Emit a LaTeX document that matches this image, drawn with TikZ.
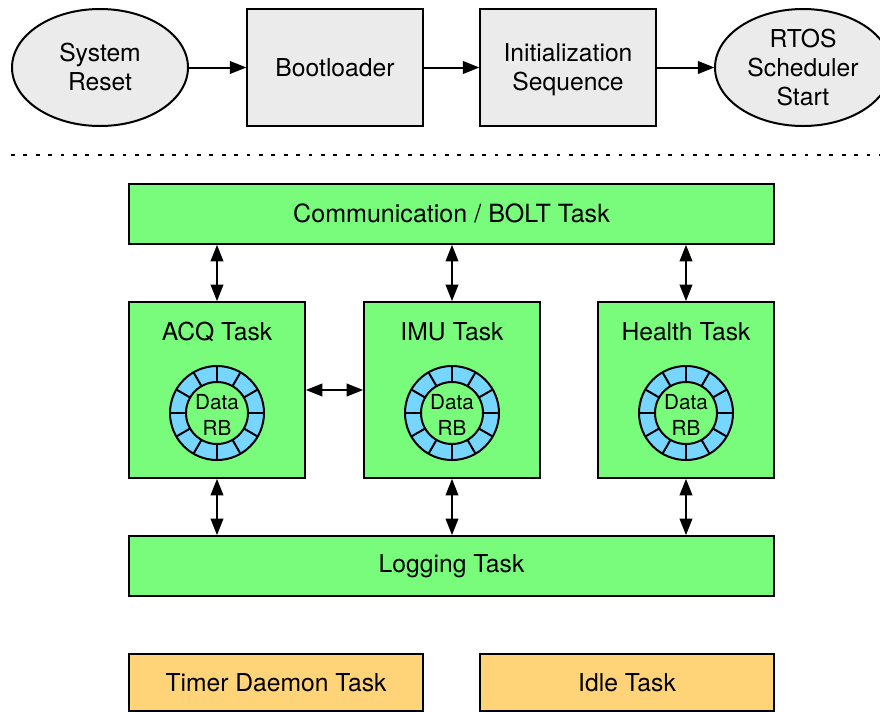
\documentclass[tikz,border=0pt]{standalone}
\usepackage{fontspec}
\setmainfont{TeX Gyre Heros}
\usetikzlibrary{arrows.meta,shapes.geometric,calc}
\definecolor{grn}{HTML}{79FB7C}
\definecolor{gry}{HTML}{EBEBEB}
\definecolor{org}{HTML}{FFD479}
\definecolor{blu}{HTML}{76D6FF}
\tikzset{
  x=0.75pt,y=-0.75pt,
  base/.style={draw=black,line width=1.5pt,inner sep=0pt,outer sep=0pt,align=center,font=\fontsize{18.5}{21.75}\selectfont},
  startbox/.style={base,fill=gry,minimum width=132pt,minimum height=87.75pt},
  startoval/.style={base,ellipse,fill=gry,minimum width=132pt,minimum height=87.75pt},
  widetask/.style={base,fill=grn,minimum width=483.75pt,minimum height=45pt},
  task/.style={base,fill=grn,minimum width=132pt,minimum height=132pt,text depth=0pt},
  lowtask/.style={base,fill=org,minimum width=220.5pt,minimum height=43pt},
  tasklabel/.style={font=\fontsize{18.5}{21.75}\selectfont,inner sep=0pt,align=center},
  ringouter/.style={circle,draw=black,line width=1.5pt,fill=blu,minimum size=70.5pt,inner sep=0pt,outer sep=0pt},
  ringinner/.style={circle,draw=black,line width=1.5pt,fill=grn,minimum size=46.5pt,inner sep=0pt,outer sep=0pt},
  ringtext/.style={inner sep=0pt,align=center,font=\fontsize{15.5}{19}\selectfont},
  flow/.style={line width=1.5pt,-{Triangle[length=12.5pt,width=9.5pt]},shorten >=0.4pt},
  link/.style={line width=1.5pt,{Triangle[length=12.5pt,width=9.5pt]}-{Triangle[length=12.5pt,width=9.5pt]},shorten <=0.6pt,shorten >=0.6pt},
}
\newcommand{\ringbuf}[2]{%
  \node[ringouter] (#1o) at (#2) {};
  \node[ringinner] (#1i) at (#2) {};
  \node[ringtext,yshift=-1.5pt] (#1t) at (#2) {Data\\RB};
  \foreach \a in {0,30,...,330} \draw[line width=1.5pt] (#1i.\a) -- (#1o.\a);
}
\begin{document}
\begin{tikzpicture}
\useasboundingbox (0,0) rectangle (880,711);
\begin{scope}
\clip (0,0) rectangle (880,711);
\node[startoval] (reset) at (100,67.5) {};
\node[tasklabel] (resetl) at (100,67) {System\\Reset};
\node[startbox] (boot) at (335,67.5) {Bootloader};
\node[startbox] (init) at (568,67.5) {};
\node[tasklabel] (initl) at (568,70) {\vphantom{Ig}Initialization\\\vphantom{Ig}Sequence};
\node[startoval] (rtos) at (803,67.5) {RTOS\\Scheduler\\Start};
\coordinate (dl) at (11,155);
\coordinate (dr) at (880,155);
\draw[line width=1.5pt,dash pattern=on 2.9pt off 6.4pt] (dl) -- (dr);
\node[widetask,font=\fontsize{18.8}{21.75}\selectfont] (comm) at (451.5,214) {};
\node[tasklabel,font=\fontsize{18.8}{21.75}\selectfont] (comml) at (451.5,213) {Communication / BOLT Task};
\node[task] (acq) at (217,390) {};
\node[task] (imu) at (452,390) {};
\node[task] (health) at (686,390) {};
\node[tasklabel] (acql) at (217,332) {ACQ Task};
\node[tasklabel] (imul) at (452,332) {IMU Task};
\node[tasklabel] (healthl) at (686,332) {Health Task};
\ringbuf{a}{217,413}
\ringbuf{b}{452,413}
\ringbuf{c}{686,413}
\node[widetask] (log) at (451.5,566) {Logging Task};
\node[lowtask] (timer) at (276,682.7) {Timer Daemon Task};
\node[lowtask] (idle) at (627,682.7) {Idle Task};
\end{scope}
\draw[flow] (reset) -- (boot);
\draw[flow] (boot) -- (init);
\draw[flow] (init) -- (rtos);
\draw[link] (acq.north) -- (acq.north |- comm.south);
\draw[link] (imu.north) -- (imu.north |- comm.south);
\draw[link] (health.north) -- (health.north |- comm.south);
\draw[link] (acq.south) -- (acq.south |- log.north);
\draw[link] (imu.south) -- (imu.south |- log.north);
\draw[link] (health.south) -- (health.south |- log.north);
\draw[link] (acq.east) -- (imu.west);
\end{tikzpicture}
\end{document}
